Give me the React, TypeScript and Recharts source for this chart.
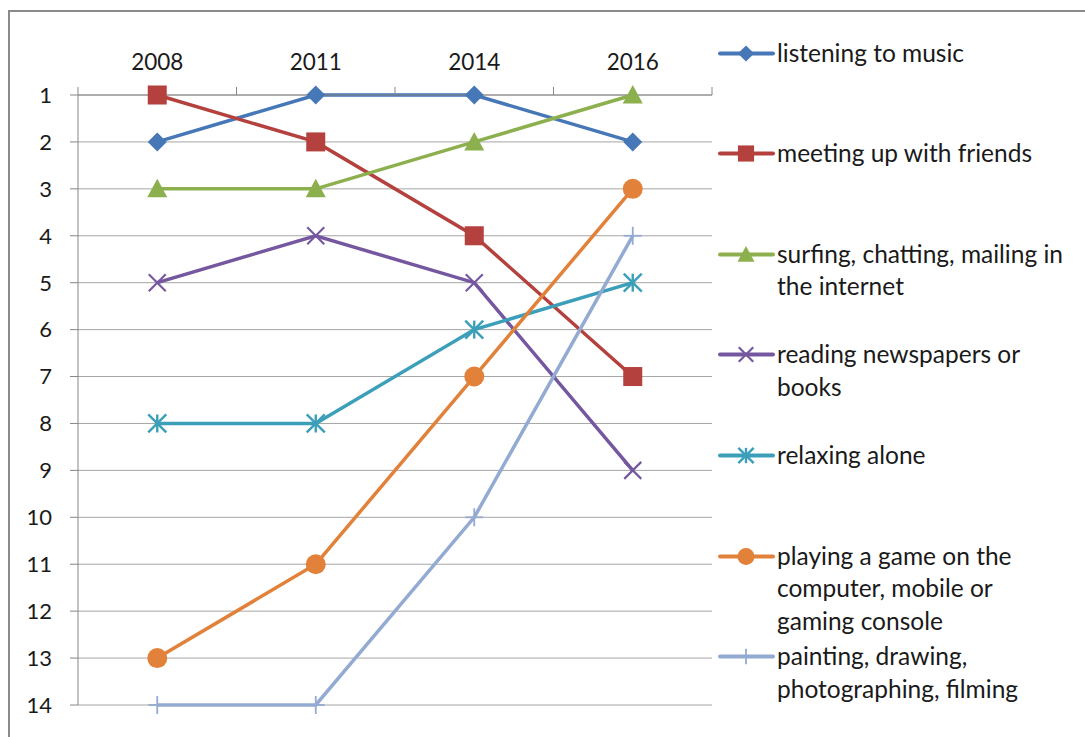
import React from 'react';
import { LineChart, Line, XAxis, YAxis, CartesianGrid } from 'recharts';

const years = ['2008', '2011', '2014', '2016'];
const ranks = Array.from({ length: 14 }, (_, i) => i + 1);

const music = [2, 1, 1, 2];
const friends = [1, 2, 4, 7];
const internet = [3, 3, 2, 1];
const reading = [5, 4, 5, 9];
const relaxing = [8, 8, 6, 5];
const gaming = [13, 11, 7, 3];
const painting = [14, 14, 10, 4];

const series = [
  { key: 'music', name: 'listening to music', lines: ['listening to music'], color: '#4677B6', marker: 'diamond', values: music },
  { key: 'friends', name: 'meeting up with friends', lines: ['meeting up with friends'], color: '#B4413E', marker: 'square', values: friends },
  { key: 'internet', name: 'surfing, chatting, mailing in the internet', lines: ['surfing, chatting, mailing in', 'the internet'], color: '#8DB04F', marker: 'triangle', values: internet },
  { key: 'reading', name: 'reading newspapers or books', lines: ['reading newspapers or', 'books'], color: '#7557A0', marker: 'x', values: reading },
  { key: 'relaxing', name: 'relaxing alone', lines: ['relaxing alone'], color: '#3C9FBA', marker: 'star', values: relaxing },
  { key: 'gaming', name: 'playing a game on the computer, mobile or gaming console', lines: ['playing a game on the', 'computer, mobile or', 'gaming console'], color: '#E2823A', marker: 'circle', values: gaming },
  { key: 'painting', name: 'painting, drawing, photographing, filming', lines: ['painting, drawing,', 'photographing, filming'], color: '#93AAD2', marker: 'plus', values: painting },
];

const data = years.map((year, i) => {
  const row: Record<string, string | number> = { year };
  series.forEach(s => { row[s.key] = s.values[i]; });
  return row;
});

const W = 1085;
const H = 737;
const PLOT_LEFT = 78;
const PLOT_RIGHT = 712;
const PLOT_TOP = 95;
const PLOT_BOTTOM = 705;
const HALF_BAND = (PLOT_RIGHT - PLOT_LEFT) / years.length / 2;
const X_TICK_SIZE = 8;
const X_TICK_MARGIN = 17;
const FONT = 'Lato, "Open Sans", sans-serif';
const TEXT = '#1a1a1a';

function Marker({ kind, cx, cy, color, s = 1 }: { kind: string; cx: number; cy: number; color: string; s?: number }) {
  switch (kind) {
    case 'diamond': {
      const r = 9.5 * s;
      return <polygon points={`${cx},${cy - r} ${cx + r},${cy} ${cx},${cy + r} ${cx - r},${cy}`} fill={color} />;
    }
    case 'square': {
      const r = 9.5 * s;
      return <rect x={cx - r} y={cy - r} width={2 * r} height={2 * r} fill={color} />;
    }
    case 'triangle': {
      const r = 10 * s;
      return <polygon points={`${cx},${cy - r} ${cx + r},${cy + r * 0.85} ${cx - r},${cy + r * 0.85}`} fill={color} />;
    }
    case 'circle':
      return <circle cx={cx} cy={cy} r={10 * s} fill={color} />;
    case 'x': {
      const r = 8.5 * s;
      return (
        <g stroke={color} strokeWidth={2.2}>
          <line x1={cx - r} y1={cy - r} x2={cx + r} y2={cy + r} />
          <line x1={cx - r} y1={cy + r} x2={cx + r} y2={cy - r} />
        </g>
      );
    }
    case 'star': {
      const r = 9 * s;
      return (
        <g stroke={color} strokeWidth={2.4}>
          <line x1={cx - r} y1={cy - r} x2={cx + r} y2={cy + r} />
          <line x1={cx - r} y1={cy + r} x2={cx + r} y2={cy - r} />
          <line x1={cx} y1={cy - r} x2={cx} y2={cy + r} />
        </g>
      );
    }
    case 'plus': {
      const r = 9 * s;
      return (
        <g stroke={color} strokeWidth={1.8}>
          <line x1={cx - r} y1={cy} x2={cx + r} y2={cy} />
          <line x1={cx} y1={cy - r} x2={cx} y2={cy + r} />
        </g>
      );
    }
    default:
      return null;
  }
}

function YearTick(props: any) {
  const { x, y, payload, index } = props;
  const axisY = y + X_TICK_SIZE + X_TICK_MARGIN;
  return (
    <g>
      <text x={x} y={y} textAnchor="middle" fontSize={22.5} fontFamily={FONT} fill={TEXT}>{payload.value}</text>
      <line x1={x - HALF_BAND} y1={axisY - X_TICK_SIZE} x2={x - HALF_BAND} y2={axisY} stroke="#868686" />
      {index === years.length - 1 && (
        <line x1={x + HALF_BAND} y1={axisY - X_TICK_SIZE} x2={x + HALF_BAND} y2={axisY} stroke="#868686" />
      )}
    </g>
  );
}

function ChartLegend() {
  return (
    <div style={{ position: 'absolute', left: 718, top: 36.5, fontFamily: FONT, fontSize: 24.5, color: TEXT }}>
      {series.map(s => (
        <div key={s.key} style={{ position: 'relative', height: 100.67 }}>
          <svg width={58} height={33} style={{ position: 'absolute', left: 0, top: 0 }}>
            <line x1={2} y1={16.5} x2={55} y2={16.5} stroke={s.color} strokeWidth={4} strokeLinecap="round" />
            <Marker kind={s.marker} cx={28} cy={16.5} color={s.color} s={0.85} />
          </svg>
          <div style={{ position: 'absolute', left: 59, top: 0, lineHeight: '32.5px', whiteSpace: 'nowrap' }}>
            {s.lines.map((l, i) => <div key={i}>{l}</div>)}
          </div>
        </div>
      ))}
    </div>
  );
}

export default function App() {
  return (
    <div style={{ position: 'absolute', left: 0, top: 0, width: W, height: H, overflow: 'hidden', background: '#fff' }}>
      <div style={{ position: 'absolute', left: 8, top: 10, width: 1200, height: 900, border: '2px solid #8a8a8a' }} />
      <div style={{ position: 'absolute', left: 0, top: 0 }}>
        <LineChart
          width={W}
          height={H}
          data={data}
          margin={{ top: PLOT_TOP - 40, left: PLOT_LEFT - 60, right: W - PLOT_RIGHT, bottom: H - PLOT_BOTTOM }}
        >
          <CartesianGrid vertical={false} stroke="#a6a6a6" />
          <XAxis
            dataKey="year"
            orientation="top"
            height={40}
            padding={{ left: HALF_BAND, right: HALF_BAND }}
            tickLine={false}
            axisLine={{ stroke: '#868686' }}
            tickSize={X_TICK_SIZE}
            tickMargin={X_TICK_MARGIN}
            tick={<YearTick />}
            interval={0}
          />
          <YAxis
            type="number"
            domain={[1, 14]}
            ticks={ranks}
            reversed
            width={60}
            interval={0}
            tickSize={8}
            tickMargin={18}
            axisLine={{ stroke: '#868686' }}
            tickLine={{ stroke: '#868686' }}
            tick={{ fontSize: 22, fontFamily: FONT, fill: TEXT }}
          />
          {series.map(s => (
            <Line
              key={s.key}
              dataKey={s.key}
              name={s.name}
              type="linear"
              stroke={s.color}
              strokeWidth={3.5}
              isAnimationActive={false}
              dot={(p: any) => <Marker key={`${s.key}-${p.index}`} kind={s.marker} cx={p.cx} cy={p.cy} color={s.color} />}
              activeDot={false}
            />
          ))}
        </LineChart>
      </div>
      <ChartLegend />
    </div>
  );
}
